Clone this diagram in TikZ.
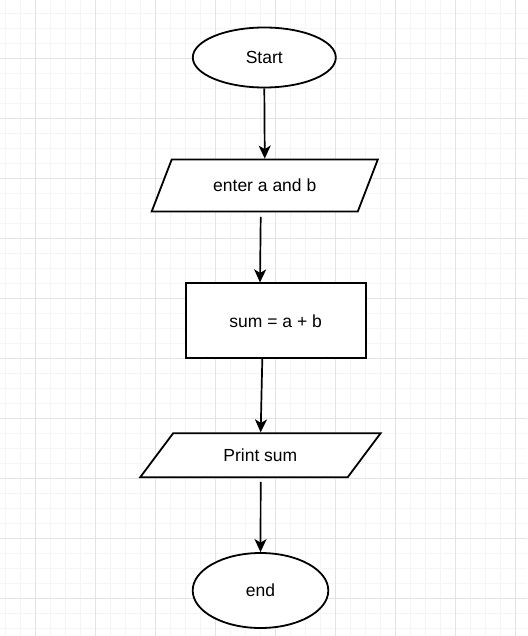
\documentclass[tikz,border=0pt]{standalone}
\usepackage{fontspec}
\setmainfont{Liberation Sans}
\usetikzlibrary{shapes.geometric,arrows.meta}
\begin{document}
\begin{tikzpicture}[x=1pt,y=-1pt,
  shapeline/.style={draw=black,line width=1.8pt,fill=white,inner sep=0pt,
    text depth=0pt,font=\fontsize{17.5}{21}\selectfont},
  terminal/.style={shapeline,ellipse},
  process/.style={shapeline,rectangle},
  io/.style={shapeline,trapezium,trapezium stretches=true},
  flow/.style={line width=1.7pt,-{Stealth[length=13pt,width=12pt,inset=3.5pt]}},
  gridminor/.style={draw=black!4,line width=0.8pt},
  gridmajor/.style={draw=black!11,line width=0.9pt}]
\useasboundingbox (0,0) rectangle (527,636);
% background grid
\fill[white] (0,0) rectangle (527,636);
\foreach \x in {5,20,...,525} \draw[gridminor] (\x,0) -- (\x,636);
\foreach \y in {13,28,...,635} \draw[gridminor] (0,\y) -- (527,\y);
\foreach \x in {35,95,...,515} \draw[gridmajor] (\x,0) -- (\x,636);
\foreach \y in {58,118,...,598} \draw[gridmajor] (0,\y) -- (527,\y);
% flowchart blocks
\node[terminal,minimum width=143pt,minimum height=60pt] (start) at (264.3,57.5) {Start};
\node[io,minimum width=226.5pt,minimum height=52pt,
  trapezium left angle=48.8,trapezium right angle=131.2] (input) at (264.75,185.5) {enter a and b};
\node[process,minimum width=180pt,minimum height=75pt] (calc) at (275.7,320.8) {sum = a + b};
\node[io,minimum width=240.7pt,minimum height=44pt,
  trapezium left angle=42.3,trapezium right angle=137.7] (output) at (260.35,455.3) {Print sum};
\node[terminal,minimum width=135.6pt,minimum height=75pt] (stop) at (260.5,590.5) {end};
% connectors
\draw[flow] (start.south) -- (input.north);
\draw[flow,shorten <=4.5pt] ([xshift=-4pt]input.south) -- ([xshift=-15.7pt]calc.north);
\draw[flow] ([xshift=-13.4pt]calc.south) -- ([xshift=0.3pt]output.north);
\draw[flow,shorten <=3.7pt] ([xshift=0.35pt]output.south) -- (stop.north);
\end{tikzpicture}
\end{document}
